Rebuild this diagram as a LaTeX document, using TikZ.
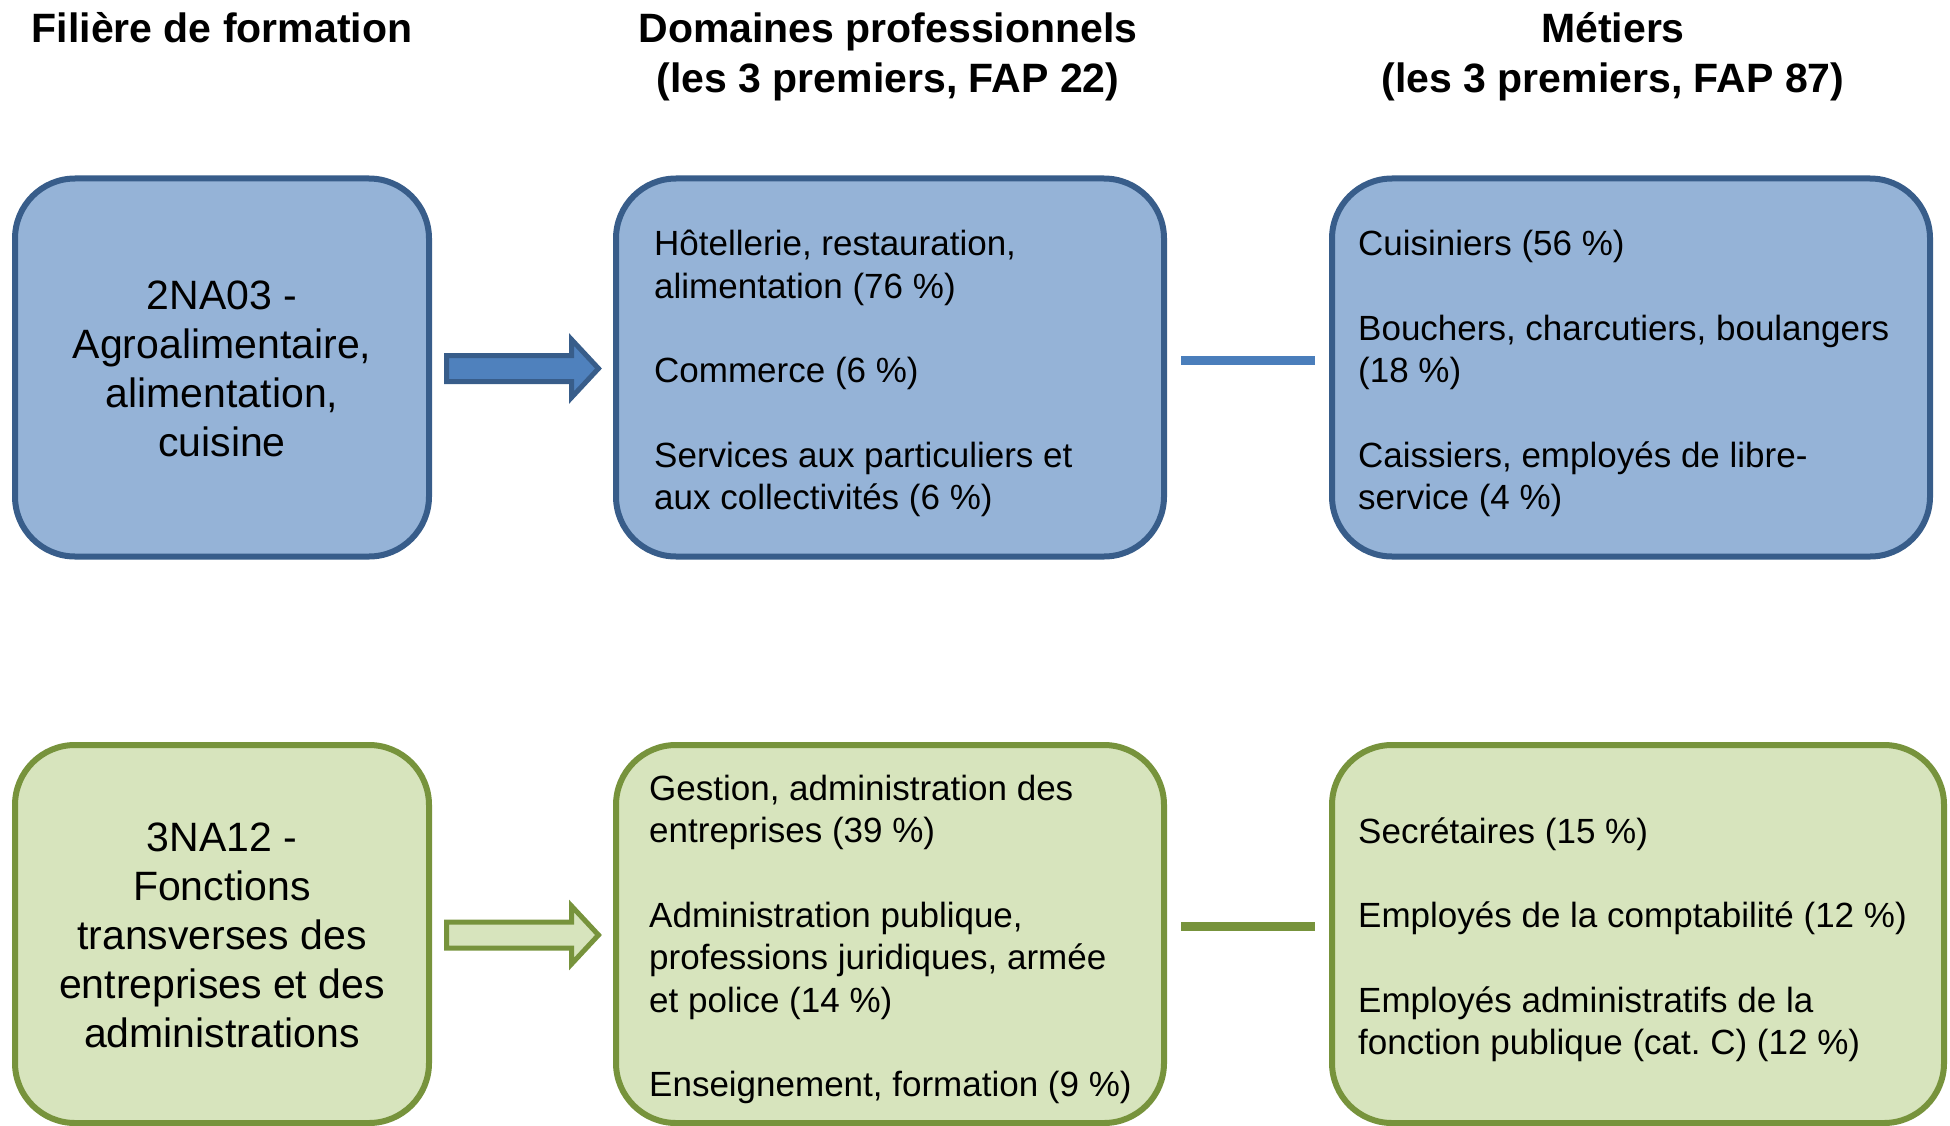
\documentclass[tikz,border=0pt]{standalone}
\usepackage{fontspec}
\setmainfont{Liberation Sans}
\usetikzlibrary{calc}
\definecolor{bfill}{HTML}{95B3D7}
\definecolor{bdraw}{HTML}{385D8A}
\definecolor{barrow}{HTML}{4F81BD}
\definecolor{bline}{HTML}{4A7EBB}
\definecolor{gfill}{HTML}{D7E4BD}
\definecolor{gdraw}{HTML}{77933C}
\begin{document}
\begin{tikzpicture}[x=1pt,y=-1pt,
  box/.style={line width=6pt, rounded corners=60pt, inner sep=0pt, outer sep=0pt, minimum height=378pt},
  bluebox/.style={box, fill=bfill, draw=bdraw},
  greenbox/.style={box, fill=gfill, draw=gdraw},
  head/.style={font=\fontsize{41}{50}\selectfont\bfseries, inner sep=0pt, anchor=base},
  big/.style={font=\fontsize{41}{49}\selectfont, align=center, inner sep=0pt},
  lst/.style={font=\fontsize{35}{42.3}\selectfont, align=left, inner sep=0pt, anchor=west},
  bluearrow/.style={fill=barrow, draw=bdraw, line width=5pt, line join=miter},
  greenarrow/.style={fill=gfill, draw=gdraw, line width=5pt, line join=miter},
  bluelink/.style={draw=bline, line width=9pt},
  greenlink/.style={draw=gdraw, line width=9pt},
]
\useasboundingbox (0,0) rectangle (1950,1126);

% headers
\node[head] (h1) at (222,43) {Filière de formation};
\node[head] (h2a) at (888,43) {Domaines professionnels};
\node[head] (h2b) at (888,93) {(les 3 premiers, FAP 22)};
\node[head] (h3a) at (1613,43) {Métiers};
\node[head] (h3b) at (1613,93) {(les 3 premiers, FAP 87)};

% top row boxes
\node[bluebox, minimum width=414pt] (b1) at (222,367.5) {};
\node[bluebox, minimum width=548pt] (b2) at (890,367.5) {};
\node[bluebox, minimum width=598pt] (b3) at (1631,367.5) {};

% bottom row boxes
\node[greenbox, minimum width=414pt] (g1) at (222,934) {};
\node[greenbox, minimum width=548pt] (g2) at (890,934) {};
\node[greenbox, minimum width=612pt] (g3) at (1638,934) {};

% texts top row
\node[big] (t1) at ($(b1.center)+(0,1.5)$) {2NA03 -\\Agroalimentaire,\\alimentation,\\cuisine};
\node[lst] (t2) at ($(b2.west)+(38,6)$) {Hôtellerie, restauration,\\alimentation (76~\%)\\[42.3pt]Commerce (6~\%)\\[42.3pt]Services aux particuliers et\\aux collectivités (6~\%)};
\node[lst] (t3) at ($(b3.west)+(26,6)$) {Cuisiniers (56~\%)\\[42.3pt]Bouchers, charcutiers, boulangers\\(18~\%)\\[42.3pt]Caissiers, employés de libre-\\service (4~\%)};

% texts bottom row
\node[big] (u1) at ($(g1.center)+(0,1.5)$) {3NA12 -\\Fonctions\\transverses des\\entreprises et des\\administrations};
\node[lst] (u2) at ($(g2.west)+(33,5.5)$) {Gestion, administration des\\entreprises (39~\%)\\[42.3pt]Administration publique,\\professions juridiques, armée\\et police (14~\%)\\[42.3pt]Enseignement, formation (9~\%)};
\node[lst] (u3) at ($(g3.west)+(26,5.5)$) {Secrétaires (15~\%)\\[42.3pt]Employés de la comptabilité (12~\%)\\[42.3pt]Employés administratifs de la\\fonction publique (cat.~C) (12~\%)};

% block arrows
\coordinate (a1s) at ($(b1.east)+(17.5,1)$);
\coordinate (a1e) at ($(b2.west)+(-17.5,1)$);
\draw[bluearrow] ($(a1s)+(0,-13)$) -- ($(a1e)+(-27,-13)$) -- ($(a1e)+(-27,-29)$) -- (a1e)
  -- ($(a1e)+(-27,29)$) -- ($(a1e)+(-27,13)$) -- ($(a1s)+(0,13)$) -- cycle;
\coordinate (a2s) at ($(g1.east)+(17.5,1)$);
\coordinate (a2e) at ($(g2.west)+(-17.5,1)$);
\draw[greenarrow] ($(a2s)+(0,-13)$) -- ($(a2e)+(-27,-13)$) -- ($(a2e)+(-27,-29)$) -- (a2e)
  -- ($(a2e)+(-27,29)$) -- ($(a2e)+(-27,13)$) -- ($(a2s)+(0,13)$) -- cycle;

% links
\draw[bluelink] ($(b2.east)+(17,-7.5)$) -- ($(b3.west)+(-17,-7.5)$);
\draw[greenlink] ($(g2.east)+(17,-8)$) -- ($(g3.west)+(-17,-8)$);
\end{tikzpicture}
\end{document}
